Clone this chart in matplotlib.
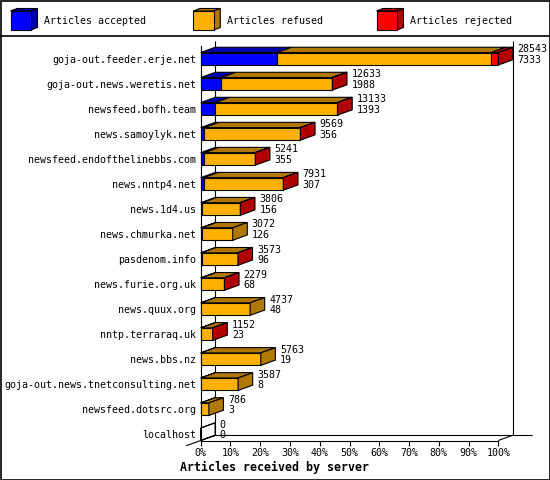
import matplotlib
matplotlib.use('Agg')
import matplotlib.pyplot as plt
from matplotlib.patches import Polygon, Rectangle

# ---------------- data ----------------
hosts = [
    'goja-out.feeder.erje.net', 'goja-out.news.weretis.net', 'newsfeed.bofh.team',
    'news.samoylyk.net', 'newsfeed.endofthelinebbs.com', 'news.nntp4.net',
    'news.1d4.us', 'news.chmurka.net', 'pasdenom.info', 'news.furie.org.uk',
    'news.quux.org', 'nntp.terraraq.uk', 'news.bbs.nz',
    'goja-out.news.tnetconsulting.net', 'newsfeed.dotsrc.org', 'localhost',
]
offered = [28543, 12633, 13133, 9569, 5241, 7931, 3806, 3072, 3573, 2279,
           4737, 1152, 5763, 3587, 786, 0]
accepted = [7333, 1988, 1393, 356, 355, 307, 156, 126, 96, 68,
            48, 23, 19, 8, 3, 0]
rejected = [680, 45, 40, 25, 20, 30, 15, 0, 12, 10,
            0, 8, 0, 0, 0, 0]
series_names = ['Articles accepted', 'Articles refused', 'Articles rejected']
x_ticks = [0, 10, 20, 30, 40, 50, 60, 70, 80, 90, 100]
x_tick_labels = [f'{t}%' for t in x_ticks]
x_title = 'Articles received by server'

# ---------------- style ----------------
front_col = ['#0000ff', '#ffb000', '#ff0000']
dark_col = ['#0000b0', '#b07800', '#b00000']
MONO = 'DejaVu Sans Mono'
FS = 7.2
LW = 0.8

W, H = 550, 480
fig = plt.figure(figsize=(W / 100, H / 100), dpi=100)
fig.patch.set_facecolor('white')

# front plane of the plot (pixel layout)
pl, pr, pt, pb = 200.7, 498.3, 46.25, 440.5
ax = fig.add_axes([pl / W, 1 - pb / H, (pr - pl) / W, (pb - pt) / H])
n = len(hosts)
bar_h = 0.5
ytop, ybot = -0.5, (n - 1) + bar_h / 2
ax.set_xlim(0, 100)
ax.set_ylim(ybot, ytop)
ax.patch.set_visible(False)

dx = 4.9    # depth in x (percent units)
dy = 0.21   # depth in y (category units)

maxv = max(offered)
scale = 100.0 / maxv

# back walls / floor
kw = dict(color='black', lw=LW, clip_on=False, zorder=1, solid_capstyle='butt')
ax.plot([dx, dx], [ytop - dy, ybot - dy], **kw)
ax.plot([100 + dx, 100 + dx], [ytop - dy, ybot - dy], **kw)
ax.plot([dx, 111.2], [ybot - dy, ybot - dy], **kw)
ax.plot([-dx, dx], [ybot + dy, ybot - dy], **kw)
ax.plot([100, 100 + dx], [ybot, ybot - dy], **kw)


def add_poly(pts, fc, z):
    ax.add_patch(Polygon(pts, closed=True, facecolor=fc, edgecolor='black',
                         lw=LW, clip_on=False, zorder=z, joinstyle='miter'))


for i in range(n - 1, -1, -1):
    refused = offered[i] - accepted[i] - rejected[i]
    vals = [accepted[i] * scale, refused * scale, rejected[i] * scale]
    top = i - bar_h / 2
    bot = i + bar_h / 2
    left = 0.0
    last = None
    z = 3
    for k, v in enumerate(vals):
        if v <= 0:
            continue
        add_poly([(left, top), (left + v, top), (left + v, bot), (left, bot)],
                 front_col[k], z)
        add_poly([(left, top), (left + v, top), (left + v + dx, top - dy),
                  (left + dx, top - dy)], dark_col[k], z)
        left += v
        last = k
    end = left
    side_fc = dark_col[last] if last is not None else 'none'
    if last is None:
        add_poly([(0, top), (dx, top - dy), (dx, bot - dy), (0, bot)], 'none', z)
    add_poly([(end, top), (end, bot), (end + dx, bot - dy), (end + dx, top - dy)],
             side_fc, z)
    ax.text(end + dx + 1.5, i - 0.38, str(offered[i]), ha='left', va='center',
            fontsize=FS, family=MONO, clip_on=False, zorder=5)
    ax.text(end + dx + 1.5, i + 0.03, str(accepted[i]), ha='left', va='center',
            fontsize=FS, family=MONO, clip_on=False, zorder=5)

# axes
for s in ['top', 'right']:
    ax.spines[s].set_visible(False)
for s in ['left', 'bottom']:
    ax.spines[s].set_linewidth(LW)
    ax.spines[s].set_zorder(2)
ax.set_xticks(x_ticks)
ax.set_xticklabels(x_tick_labels, family=MONO, fontsize=FS)
ax.set_yticks(range(n))
ax.set_yticklabels(hosts, family=MONO, fontsize=FS)
ax.tick_params(axis='x', length=3.6, width=LW, pad=2, direction='out')
ax.tick_params(axis='y', length=0, pad=3.2)

fig.text(0.5, 1 - 467 / H, x_title, ha='center', va='center',
         fontsize=8.4, fontweight='bold', family=MONO)

# overlay for legend and frame (pixel coordinates)
ov = fig.add_axes([0, 0, 1, 1], zorder=-1)
ov.set_xlim(0, W)
ov.set_ylim(H, 0)
ov.axis('off')
ov.add_patch(Rectangle((0.5, 0.5), W - 1, H - 1, fill=False, edgecolor='black',
                       lw=1.2, clip_on=False))
ov.plot([0, W], [36, 36], color='black', lw=1.2)

cube_x = [10.5, 193.3, 376.5]
cw, ch, cdx, cdy = 20.5, 19, 6.5, 2.5
for k, name in enumerate(series_names):
    x0, y0 = cube_x[k], 11
    ov.add_patch(Polygon([(x0, y0), (x0 + cw, y0), (x0 + cw + cdx, y0 - cdy),
                          (x0 + cdx, y0 - cdy)], closed=True,
                         facecolor=dark_col[k], edgecolor='black', lw=LW))
    ov.add_patch(Polygon([(x0 + cw, y0), (x0 + cw, y0 + ch),
                          (x0 + cw + cdx, y0 + ch - cdy), (x0 + cw + cdx, y0 - cdy)],
                         closed=True, facecolor=dark_col[k], edgecolor='black', lw=LW))
    ov.add_patch(Rectangle((x0, y0), cw, ch, facecolor=front_col[k],
                           edgecolor='black', lw=LW))
    ov.text(x0 + 34, 21, name, ha='left', va='center', fontsize=FS, family=MONO)

fig.savefig('out.png', dpi=100)
